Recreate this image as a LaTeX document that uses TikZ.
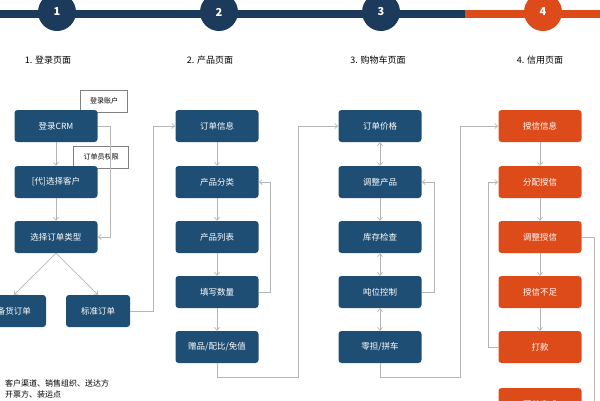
\documentclass[tikz,border=0pt]{standalone}
\usepackage{fontspec}
\setmainfont{Noto Sans CJK SC}
\usetikzlibrary{arrows.meta}
\definecolor{navy}{HTML}{1F4E74}
\definecolor{bar}{HTML}{1B3A5C}
\definecolor{org}{HTML}{DD4B1A}
\definecolor{ln}{HTML}{B5B5B5}
\tikzset{
 box/.style={rectangle,rounded corners=3pt,fill=navy,text=white,minimum width=83pt,minimum height=32pt,font=\fontsize{8.5}{10}\selectfont,inner sep=0pt},
 obox/.style={box,fill=org},
 tag/.style={rectangle,draw=gray,fill=white,font=\fontsize{7}{8}\selectfont,inner sep=2pt,minimum height=22pt},
 con/.style={draw=ln,line width=0.7pt,-{Straight Barb[length=3pt,width=5pt]}},
 dcon/.style={draw=ln,line width=0.7pt,{Straight Barb[length=3pt,width=5pt]}-{Straight Barb[length=3pt,width=5pt]}},
 circ/.style={circle,fill=bar,text=white,minimum size=38pt,font=\bfseries\fontsize{11}{12}\selectfont,inner sep=0pt},
 step/.style={font=\fontsize{9}{11}\selectfont}
}
\begin{document}
\begin{tikzpicture}[x=1pt,y=-1pt]
\useasboundingbox (0,0) rectangle (600,400);
\clip (0,0) rectangle (600,400);
\fill[bar] (0,10) rectangle (465,18);
\fill[org] (465,10) rectangle (600,18);
\node[circ] (c1) at (57,12) {1};
\node[circ] (c2) at (219,12) {2};
\node[circ] (c3) at (381,12) {3};
\node[circ,fill=org] (c4) at (543,12) {4};
\node[font=\fontsize{9}{11}\selectfont] (l1) at (48,60) {1. 登录页面};
\node[font=\fontsize{9}{11}\selectfont] (l2) at (210,60) {2. 产品页面};
\node[font=\fontsize{9}{11}\selectfont] (l3) at (378,60) {3. 购物车页面};
\node[font=\fontsize{9}{11}\selectfont] (l4) at (540,60) {4. 信用页面};
% column 1
\node[tag,minimum width=47pt] (t1) at (104,101) {登录账户};
\node[tag,minimum width=55pt] (t2) at (101,157) {订单员权限};
\node[box] (a1) at (56,126) {登录CRM};
\node[box] (a2) at (56,182) {[代]选择客户};
\node[box] (a3) at (56,237) {选择订单类型};
\node[box,minimum width=64pt] (a4) at (14,311) {备货订单};
\node[box,minimum width=64pt] (a5) at (98,311) {标准订单};
\draw[con] (a1) -- (a2);
\draw[con] (a2) -- (a3);
\draw[con] (a1.east) -- (110,126) -- (110,237) -- (a3.east);
\draw[con] (a3.south) -- (a4.north);
\draw[con] (a3.south) -- (a5.north);
% column 2
\node[box] (b1) at (217,126) {订单信息};
\node[box] (b2) at (217,182) {产品分类};
\node[box] (b3) at (217,237) {产品列表};
\node[box] (b4) at (217,292) {填写数量};
\node[box] (b5) at (217,347) {赠品/配比/免值};
\draw[con] (a5.east) -- (153,311) -- (153,126) -- (b1.west);
\draw[con] (b1) -- (b2);
\draw[con] (b2) -- (b3);
\draw[con] (b3) -- (b4);
\draw[con] (b4) -- (b5);
\draw[con] (b4.east) -- (270,292) -- (270,182) -- (b2.east);
% column 3
\node[box] (d1) at (380,126) {订单价格};
\node[box] (d2) at (380,182) {调整产品};
\node[box] (d3) at (380,237) {库存检查};
\node[box] (d4) at (380,292) {吨位控制};
\node[box] (d5) at (380,347) {零担/拼车};
\draw[con] (b5.south) -- (217,377) -- (298,377) -- (298,126) -- (d1.west);
\draw[dcon] (d1) -- (d2);
\draw[con] (d2) -- (d3);
\draw[dcon] (d3) -- (d4);
\draw[dcon] (d4) -- (d5);
\draw[con] (d4.east) -- (434,292) -- (434,182) -- (d2.east);
% column 4
\node[obox] (e1) at (540,126) {授信信息};
\node[obox] (e2) at (540,182) {分配授信};
\node[obox] (e3) at (540,237) {调整授信};
\node[obox] (e4) at (540,292) {授信不足};
\node[obox] (e5) at (540,347) {打款};
\node[obox] (e6) at (540,404) {下单完成};
\draw[con] (d5.south) -- (380,377) -- (460,377) -- (460,126) -- (e1.west);
\draw[con] (e1) -- (e2);
\draw[con] (e2) -- (e3);
\draw[con] (e3) -- (e4);
\draw[con] (e4) -- (e5);
\draw[con] (e5.west) -- (488,347) -- (488,182) -- (e2.west);
\draw[con] (e3.east) -- (594,237) -- (594,404) -- (e6.east);
\node[anchor=north west,align=left,font=\fontsize{8}{12}\selectfont,inner sep=0pt] (note) at (5,379) {客户渠道、销售组织、送达方\\开票方、装运点};
\end{tikzpicture}
\end{document}
